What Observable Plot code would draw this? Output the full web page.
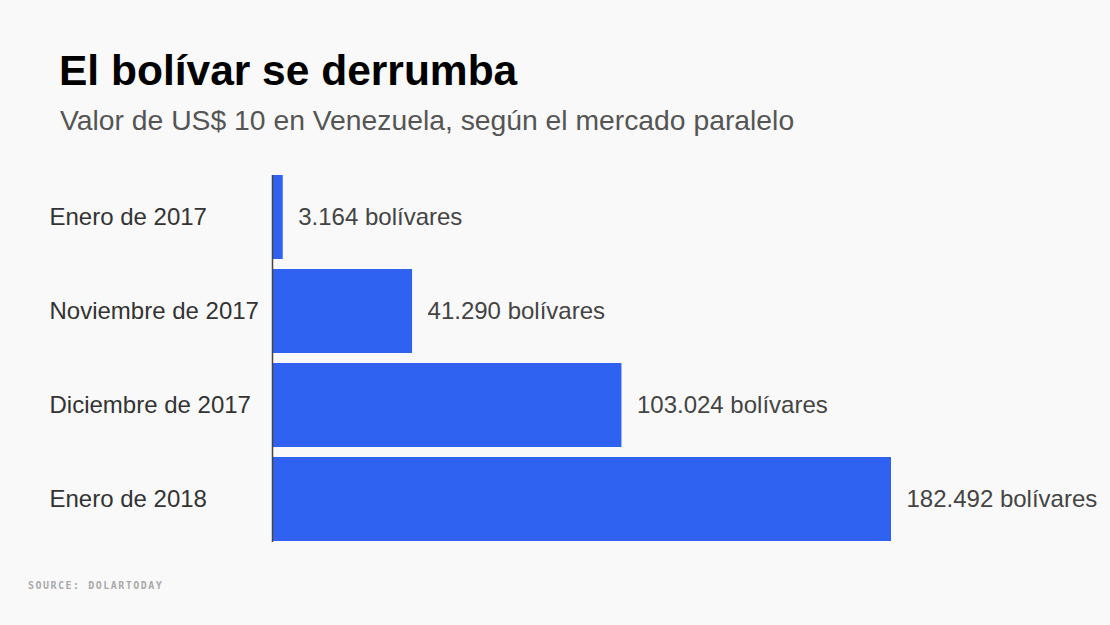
<!DOCTYPE html>
<html>
<head>
<meta charset="utf-8">
<script src="https://cdn.jsdelivr.net/npm/d3@7"></script>
<script src="https://cdn.jsdelivr.net/npm/@observablehq/plot@0.6"></script>
<style>
  html, body { margin: 0; padding: 0; background: #f9f9f9; }
  body { width: 1110px; height: 625px; position: relative; overflow: hidden; font-family: "Liberation Sans", Arial, Helvetica, sans-serif; }
  #title { position: absolute; left: 59px; top: 47px; font-size: 42.5px; font-weight: bold; color: #000; white-space: nowrap; }
  #subtitle { position: absolute; left: 60px; top: 104px; font-size: 28.3px; color: #555; white-space: nowrap; }
  #chart { position: absolute; left: 0; top: 165px; }
  #source { position: absolute; left: 28px; top: 580px; font-family: "DejaVu Sans Mono", monospace; font-size: 10px; font-weight: bold; letter-spacing: 1.5px; color: #aaa; white-space: nowrap; }
</style>
</head>
<body>
<div id="title">El bolívar se derrumba</div>
<div id="subtitle">Valor de US$ 10 en Venezuela, según el mercado paralelo</div>
<div id="chart"></div>
<div id="source">SOURCE: DOLARTODAY</div>
<script>
const categories = ["Enero de 2017", "Noviembre de 2017", "Diciembre de 2017", "Enero de 2018"];
const values = [3164, 41290, 103024, 182492];
const valueLabels = ["3.164 bolívares", "41.290 bolívares", "103.024 bolívares", "182.492 bolívares"];

const data = categories.map((c, i) => ({category: c, value: values[i], label: valueLabels[i]}));

const chart = Plot.plot({
  width: 1110,
  height: 387,
  marginTop: 10,
  marginBottom: 10,
  marginLeft: 272,
  marginRight: 219,
  style: {background: "transparent", fontFamily: "'Liberation Sans', Arial, Helvetica, sans-serif"},
  x: {domain: [0, 182492], axis: null},
  y: {domain: categories, paddingInner: 0.106, paddingOuter: 0, label: null},
  marks: [
    Plot.axisY({tickSize: 0, tickPadding: 223, textAnchor: "start", fontSize: 24, color: "#333", label: null}),
    Plot.barX(data, {y: "category", x: "value", fill: "#2f62f0"}),
    Plot.text(data, {y: "category", x: "value", text: "label", textAnchor: "start", dx: 15, fontSize: 24, fill: "#444"}),
    Plot.ruleX([0], {stroke: "#444", strokeWidth: 1.5})
  ]
});
document.getElementById("chart").appendChild(chart);
</script>
</body>
</html>
